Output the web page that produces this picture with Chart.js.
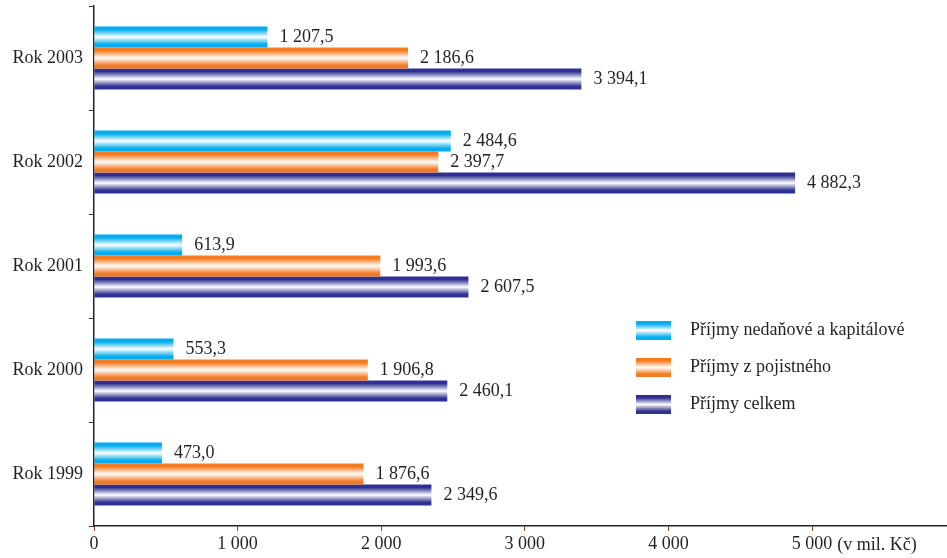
<!DOCTYPE html>
<html>
<head>
<meta charset="utf-8">
<script src="https://cdn.jsdelivr.net/npm/chart.js@4/dist/chart.umd.min.js"></script>
<style>
  body { margin: 0; background: #fff; }
  #wrap { width: 947px; height: 558px; }
</style>
</head>
<body>
<div id="wrap"><canvas id="bar-chart"></canvas></div>
<script>
// data
var categories = ["Rok 2003", "Rok 2002", "Rok 2001", "Rok 2000", "Rok 1999"];
var nedanove = [1207.5, 2484.6, 613.9, 553.3, 473.0];
var pojistne = [2186.6, 2397.7, 1993.6, 1906.8, 1876.6];
var celkem = [3394.1, 4882.3, 2607.5, 2460.1, 2349.6];
var seriesNames = ["Příjmy nedaňové a kapitálové", "Příjmy z pojistného", "Příjmy celkem"];
var xTicks = [0, 1000, 2000, 3000, 4000, 5000];
var unitText = "(v mil. Kč)";

var edgeColors = ["#00aeef", "#f47b20", "#2e3192"];
var textColor = "#231f20";
var fontFam = "'Liberation Serif', 'Times New Roman', serif";
var fontSize = 18;

function fmtInt(v) {
  return String(v).replace(/\B(?=(\d{3})+(?!\d))/g, " ");
}
function fmtNum(v) {
  var p = v.toFixed(1).split(".");
  return fmtInt(p[0]) + "," + p[1];
}

function makeGrad(ctx, c, y0, y1) {
  var g = ctx.createLinearGradient(0, y0, 0, y1);
  g.addColorStop(0, c);
  g.addColorStop(0.15, c);
  g.addColorStop(0.5, "#ffffff");
  g.addColorStop(0.85, c);
  g.addColorStop(1, c);
  return g;
}

// gradient fill on every bar, computed from the bar's own position
var gradientBars = {
  id: "gradientBars",
  beforeDatasetsDraw: function (chart) {
    var ctx = chart.ctx;
    chart.data.datasets.forEach(function (ds, i) {
      chart.getDatasetMeta(i).data.forEach(function (bar) {
        var h = bar.height;
        var g = makeGrad(ctx, edgeColors[i], bar.y - h / 2, bar.y + h / 2);
        bar.options = Object.assign({}, bar.options, { backgroundColor: g });
      });
    });
  }
};

// value labels after bar ends, legend and axis unit
var extras = {
  id: "extras",
  afterDatasetsDraw: function (chart) {
    var ctx = chart.ctx;
    ctx.save();
    ctx.font = fontSize + "px " + fontFam;
    ctx.fillStyle = textColor;
    ctx.textBaseline = "middle";
    ctx.textAlign = "left";
    chart.data.datasets.forEach(function (ds, i) {
      chart.getDatasetMeta(i).data.forEach(function (bar, j) {
        ctx.fillText(fmtNum(ds.data[j]), bar.x + 12, bar.y);
      });
    });

    // legend
    var lx = 636, ly = [321, 358, 395], bw = 35, bh = 19;
    seriesNames.forEach(function (name, i) {
      ctx.fillStyle = makeGrad(ctx, edgeColors[i], ly[i], ly[i] + bh);
      ctx.fillRect(lx, ly[i], bw, bh);
      ctx.fillStyle = textColor;
      ctx.fillText(name, 690, ly[i] + bh / 2);
    });

    // unit after the last tick label
    var xs = chart.scales.x;
    var px = xs.getPixelForValue(5000) + ctx.measureText(fmtInt(5000)).width / 2 + 5;
    ctx.fillText(unitText, px, 545);
    ctx.restore();
  }
};

new Chart(document.getElementById("bar-chart"), {
  type: "bar",
  data: {
    labels: categories,
    datasets: [
      { label: seriesNames[0], data: nedanove, backgroundColor: edgeColors[0] },
      { label: seriesNames[1], data: pojistne, backgroundColor: edgeColors[1] },
      { label: seriesNames[2], data: celkem, backgroundColor: edgeColors[2] }
    ]
  },
  options: {
    indexAxis: "y",
    responsive: true,
    maintainAspectRatio: false,
    animation: false,
    categoryPercentage: 0.606,
    barPercentage: 1,
    layout: { padding: { top: 6, left: 0, right: 0, bottom: 0 } },
    plugins: {
      legend: { display: false },
      tooltip: { enabled: false }
    },
    scales: {
      x: {
        min: 0,
        max: 5940,
        afterBuildTicks: function (s) {
          s.ticks = xTicks.map(function (v) { return { value: v }; });
        },
        afterFit: function (s) { s.height = 32; s.paddingRight = 0; s.paddingLeft = 0; },
        border: { color: "#222", width: 1.5 },
        grid: { drawOnChartArea: false, tickLength: 5, color: "#8a3b3b" },
        ticks: {
          color: textColor,
          font: { family: fontFam, size: fontSize },
          padding: 2,
          maxRotation: 0,
          autoSkip: false,
          callback: function (v) { return fmtInt(v); }
        }
      },
      y: {
        afterFit: function (s) { s.width = 94; s.paddingTop = 0; s.paddingBottom = 0; },
        border: { color: "#222", width: 1.5 },
        grid: { drawOnChartArea: false, tickLength: 5, color: "#333" },
        ticks: {
          color: textColor,
          font: { family: fontFam, size: fontSize },
          padding: 6
        }
      }
    }
  },
  plugins: [gradientBars, extras]
});
</script>
</body>
</html>
